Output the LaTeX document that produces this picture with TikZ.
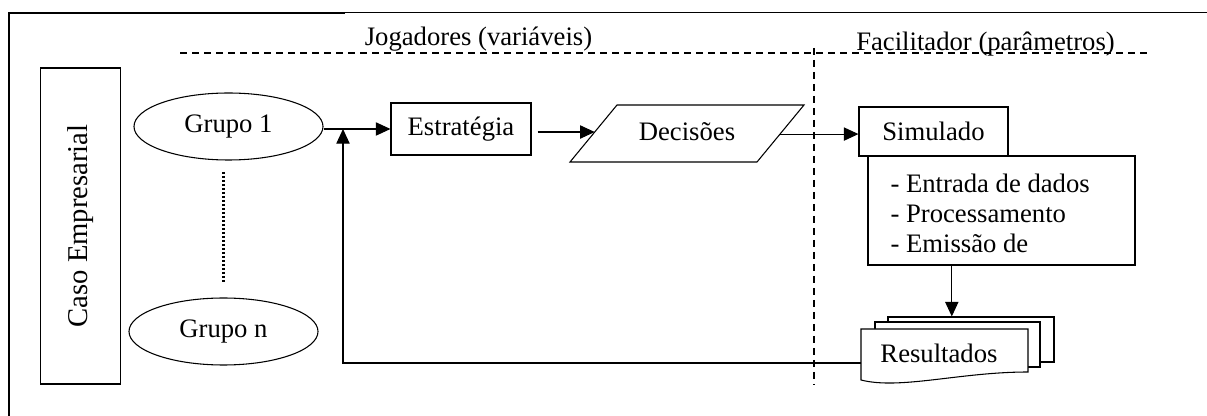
\documentclass[tikz,border=0pt]{standalone}
\usepackage{fontspec}
\setmainfont{Liberation Serif}
\usetikzlibrary{arrows.meta,calc,shapes.geometric}
\begin{document}
\begin{tikzpicture}[x=0.75pt,y=-0.75pt,line width=0.8pt,
  every node/.style={font=\fontsize{20pt}{22.5pt}\selectfont,inner sep=0pt},
  box/.style={draw,rectangle,fill=white},
  grp/.style={draw,ellipse,minimum width=141.75pt,minimum height=50.25pt},
  arr/.style={-{Triangle[length=11pt,width=10pt]}},
  dsh/.style={dash pattern=on 5pt off 4pt},
  dots/.style={line width=1.8pt,dash pattern=on 1.5pt off 1.5pt}]
\useasboundingbox (0,0) rectangle (1207,416);
% frame
\draw[line width=1.5pt] (9,416) -- (9,13) -- (345,13);
\draw[line width=0.75pt] (345,13) -- (1207,13);
% header
\draw[dsh] (180,53) -- (1150,53);
\draw[dsh] (814,48) -- (814,385);
\node[anchor=base] (jog) at (478.5,46) {Jogadores (variáveis)};
\node[anchor=base] (fac) at (985.5,51) {Facilitador (parâmetros)};
% case
\node[box,rotate=90,minimum width=237pt,minimum height=60pt,
  font=\fontsize{21.5pt}{24pt}\selectfont] (caso) at (80.7,226) {Caso Empresarial};
% groups
\node[grp] (g1) at (228.5,126.5) {Grupo 1};
\node[grp] (gn) at (223.5,331.5) {Grupo n};
\draw[dots] (gn.north |- 0,172) -- (gn.north |- 0,282);
% strategy
\node[box,minimum width=105pt,minimum height=39pt] (est) at (461,129) {Estratégia};
\coordinate (j) at (343,129);
\draw[arr] (g1.east |- j) -- (est.west);
% decisions
\coordinate (dBL) at (570,162);
\coordinate (dTL) at (617,105);
\coordinate (dTR) at (804,105);
\coordinate (dBR) at (757,162);
\draw (dBL) -- (dTL) -- (dTR) -- (dBR) -- cycle;
\node (dec) at (687,132) {Decisões};
\coordinate (decL) at ($(dBL)!0.526!(dTL)$);
\coordinate (decR) at ($(dBR)!0.49!(dTR)$);
\draw[arr,shorten <=4.5pt] (est.east |- decL) -- (decL);
% simulator
\node[box,minimum width=200.25pt,minimum height=81.75pt] (big) at (1001.5,210.5) {};
\node[box,minimum width=111.75pt,minimum height=36.75pt] (sim) at (933.5,131.5) {Simulado};
\node[anchor=west,align=left] (bigtxt) at (890,213) {- Entrada de dados\\- Processamento\\- Emissão de};
\draw[arr] (decR) -- (decR -| sim.west);
% results
\node[box,minimum width=124.5pt,minimum height=33.75pt] (r3) at (971,339.5) {};
\node[box,minimum width=123.75pt,minimum height=33.75pt] (r2) at (957.5,344.5) {};
\coordinate (rNW) at (861,329);
\coordinate (rNE) at (1028,329);
\coordinate (rSE) at (1028,372);
\coordinate (rSW) at (861,380);
\draw[fill=white] (rNW) -- (rNE) -- (rSE) .. controls (960,372) and (900,390) .. (rSW) -- cycle;
\node (res) at (939,353) {Resultados};
\coordinate (bo) at ($(big.south west)!0.3146!(big.south east)$);
\draw[arr] (bo) -- (bo |- r3.north);
\coordinate (rIn) at (861,363);
\draw[arr] (rIn) -| (j);
\end{tikzpicture}
\end{document}
